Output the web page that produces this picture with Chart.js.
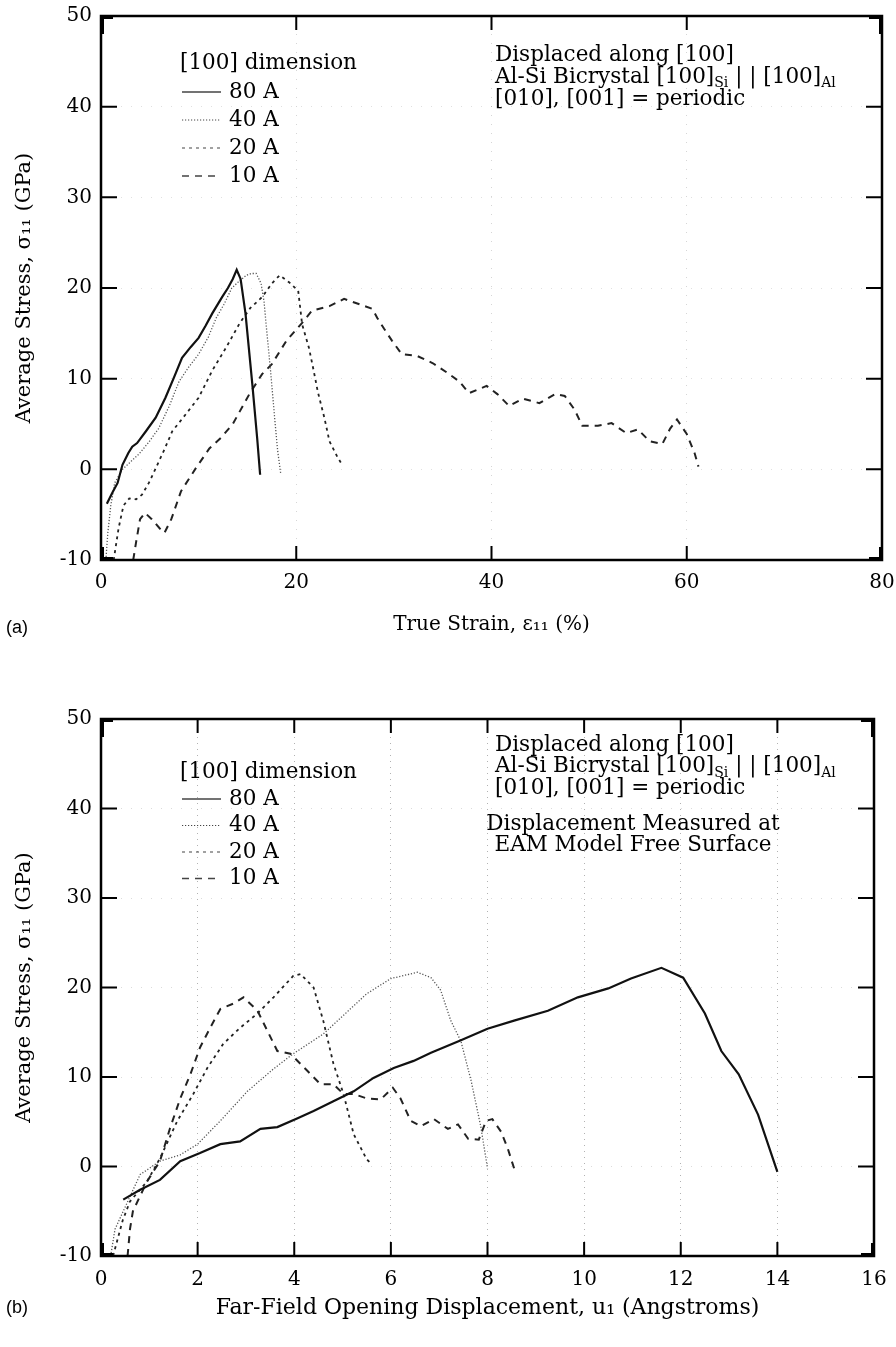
<!DOCTYPE html>
<html>
<head>
<meta charset="utf-8">
<script src="https://cdn.jsdelivr.net/npm/chart.js@4/dist/chart.umd.min.js"></script>
<style>
  html, body { margin: 0; padding: 0; background: #fff; }
  body { width: 896px; height: 1347px; position: relative; overflow: hidden; }
  canvas { position: absolute; left: 0; }
  #chartA { top: 0; }
  #chartB { top: 660px; }
</style>
</head>
<body>
<canvas id="chartA" width="896" height="660"></canvas>
<canvas id="chartB" width="896" height="687"></canvas>
<script>
// legend entries ([100] dimension of the model)
const sizeLabels = ['80 A', '40 A', '20 A', '10 A'];

// tick labels
const stressTicks = [-10, 0, 10, 20, 30, 40, 50];
const strainTicks = [0, 20, 40, 60, 80];
const dispTicks = [0, 2, 4, 6, 8, 10, 12, 14, 16];

// (a) true strain (%) vs average stress (GPa)
const strainA80 = [0.6, 1.2, 1.7, 2.2, 2.8, 3.2, 3.7, 4.6, 5.6, 6.6, 7.5, 8.3, 9.2, 10.0, 10.7, 11.4, 12.4, 13.0, 13.5, 13.9, 14.3, 14.8, 15.5, 16.0, 16.3];
const stressA80 = [-3.8, -2.5, -1.5, 0.5, 1.8, 2.5, 2.9, 4.2, 5.7, 7.9, 10.2, 12.3, 13.5, 14.5, 15.8, 17.2, 19.0, 20.0, 21.0, 22.0, 21.0, 17.2, 9.4, 3.4, -0.6];

const strainA40 = [0.5, 0.7, 1.0, 1.4, 2.2, 3.0, 3.9, 4.9, 5.9, 7.0, 8.0, 9.0, 10.0, 11.0, 11.8, 12.6, 13.4, 14.2, 14.9, 15.4, 15.9, 16.4, 16.7, 17.0, 17.4, 17.8, 18.1, 18.4];
const stressA40 = [-10, -7, -4, -1.5, 0, 0.8, 1.7, 3.0, 4.5, 7.0, 9.7, 11.3, 12.7, 14.6, 16.7, 18.2, 20.0, 20.8, 21.4, 21.6, 21.6, 20.5, 18.5, 15.0, 10.5, 5.5, 2.0, -0.4];

const strainA20 = [1.3, 1.8, 2.3, 2.9, 3.6, 4.2, 4.9, 5.6, 6.5, 7.3, 8.7, 10.0, 11.4, 12.8, 14.2, 15.3, 16.5, 17.5, 18.3, 19.3, 20.2, 20.6, 21.3, 21.8, 22.2, 22.9, 23.4, 24.2, 24.7];
const stressA20 = [-10, -6.5, -4.0, -3.2, -3.3, -2.8, -1.5, 0.1, 2.2, 4.2, 6.1, 7.9, 10.9, 13.4, 16.1, 17.8, 19.0, 20.5, 21.4, 20.6, 19.7, 16.0, 13.4, 10.8, 8.6, 5.6, 3.1, 1.4, 0.5];

const strainA10 = [3.3, 3.6, 4.0, 4.5, 5.2, 6.0, 6.5, 7.2, 8.2, 9.7, 11.1, 12.3, 13.5, 15.2, 16.5, 17.5, 19.0, 20.8, 21.6, 23.4, 24.9, 26.5, 27.8, 28.3, 29.0, 29.8, 30.8, 32.4, 34.0, 35.4, 36.7, 37.7, 39.5, 40.6, 41.8, 43.2, 44.9, 46.5, 47.5, 48.5, 49.3, 50.9, 52.3, 53.8, 55.0, 56.2, 57.5, 58.3, 59.0, 60.0, 60.8, 61.2];
const stressA10 = [-10, -8, -5.5, -4.8, -5.5, -6.5, -7.0, -5.5, -2.4, 0.1, 2.3, 3.5, 5.0, 8.3, 10.5, 11.6, 14.2, 16.4, 17.5, 18.0, 18.8, 18.2, 17.7, 16.7, 15.5, 14.2, 12.7, 12.5, 11.7, 10.7, 9.7, 8.4, 9.2, 8.3, 7.0, 7.8, 7.3, 8.3, 8.1, 6.6, 4.8, 4.8, 5.1, 4.0, 4.4, 3.1, 2.8, 4.5, 5.5, 3.9, 1.8, 0.3];

// (b) far-field opening displacement (Angstroms) vs average stress (GPa)
const dispB80 = [0.46, 0.81, 1.22, 1.64, 2.05, 2.47, 2.88, 3.3, 3.65, 4.07, 4.4, 4.81, 5.23, 5.64, 6.06, 6.47, 6.83, 7.45, 8.0, 8.55, 9.25, 9.87, 10.5, 10.97, 11.6, 12.05, 12.5, 12.84, 13.2, 13.6, 14.0];
const stressB80 = [-3.7, -2.6, -1.5, 0.6, 1.5, 2.5, 2.8, 4.2, 4.4, 5.4, 6.2, 7.3, 8.4, 9.9, 11.0, 11.8, 12.7, 14.1, 15.4, 16.3, 17.4, 18.9, 19.9, 21.0, 22.2, 21.1, 17.1, 12.9, 10.3, 5.8, -0.6];

const dispB40 = [0.2, 0.29, 0.46, 0.81, 1.22, 1.64, 2.0, 2.47, 3.03, 3.57, 3.98, 4.6, 5.02, 5.5, 6.0, 6.55, 6.83, 7.03, 7.24, 7.45, 7.66, 7.86, 8.0];
const stressB40 = [-10, -7, -5, -0.9, 0.6, 1.3, 2.5, 5.1, 8.4, 10.9, 12.6, 14.8, 16.9, 19.3, 21.0, 21.7, 21.1, 19.7, 16.3, 14.0, 9.6, 4.5, -0.2];

const dispB20 = [0.25, 0.45, 0.6, 0.95, 1.22, 1.58, 1.91, 2.2, 2.53, 2.88, 3.24, 3.57, 3.98, 4.13, 4.4, 4.6, 4.81, 5.02, 5.23, 5.5, 5.6];
const stressB20 = [-10, -6, -3.9, -1.7, 0.9, 5.1, 8.1, 11.0, 13.7, 15.5, 17.1, 18.9, 21.3, 21.5, 20.0, 16.3, 11.5, 8.1, 3.6, 0.8, 0.3];

const dispB10 = [0.55, 0.6, 0.66, 0.95, 1.22, 1.43, 1.64, 1.85, 2.05, 2.26, 2.47, 2.74, 2.95, 3.24, 3.44, 3.65, 3.92, 4.27, 4.54, 4.81, 5.02, 5.23, 5.5, 5.79, 6.04, 6.2, 6.41, 6.62, 6.89, 7.18, 7.39, 7.6, 7.82, 7.97, 8.1, 8.28, 8.42, 8.55];
const stressB10 = [-10, -7, -5, -1.7, 0.6, 4.3, 7.6, 10.3, 13.3, 15.5, 17.6, 18.2, 18.9, 17.4, 15.2, 12.9, 12.6, 10.7, 9.2, 9.2, 8.1, 8.1, 7.6, 7.5, 8.8, 7.6, 5.1, 4.5, 5.3, 4.2, 4.7, 3.1, 3.0, 5.1, 5.3, 3.9, 2.0, -0.2];

// line look of each model size
const lineStyles = [
  { color: '#111', width: 2.2, dash: [] },         // 80 A solid
  { color: '#555', width: 1.3, dash: [1.2, 1.8] }, // 40 A dotted
  { color: '#222', width: 1.8, dash: [3, 4] },     // 20 A short dash
  { color: '#222', width: 2.0, dash: [7, 6] },     // 10 A long dash
];

const serif = 'DejaVu Serif';
const noteSize = 21.5;

function toPoints(xs, ys) {
  return xs.map((x, i) => ({ x: x, y: ys[i] }));
}

function makeDatasets(series) {
  return series.map((s, i) => ({
    label: sizeLabels[i],
    data: toPoints(s[0], s[1]),
    showLine: true,
    borderColor: lineStyles[i].color,
    borderWidth: lineStyles[i].width,
    borderDash: lineStyles[i].dash,
    pointRadius: 0,
    tension: 0,
    fill: false,
  }));
}

// text with optional subscripts: parts = [[text, isSub], ...]
function drawRich(ctx, parts, x, y, size) {
  let cx = x;
  parts.forEach(p => {
    const sub = p[1];
    ctx.font = (sub ? Math.round(size * 0.65) : size) + 'px "' + serif + '"';
    ctx.fillText(p[0], cx, sub ? y + size * 0.3 : y);
    cx += ctx.measureText(p[0]).width;
  });
}

// frame, inward ticks, legend and notes
const decorPlugin = {
  id: 'decor',
  afterDatasetsDraw(chart, args, opts) {
    const ctx = chart.ctx;
    const { left, right, top, bottom } = chart.chartArea;
    const xs = chart.scales.x, ys = chart.scales.y;
    ctx.save();
    ctx.setLineDash([]);
    ctx.strokeStyle = '#000';
    ctx.fillStyle = '#000';

    // frame
    ctx.lineWidth = 2.5;
    ctx.strokeRect(left, top, right - left, bottom - top);
    // heavier corners
    const c = 13, t = 4;
    ctx.fillRect(left - 1, top - 1, t, c + 6); ctx.fillRect(left - 1, top - 1, c, t);
    ctx.fillRect(left - 1, bottom - c, t, c + 1); ctx.fillRect(left - 1, bottom - t + 1, c, t);
    ctx.fillRect(right - t + 1, top - 1, t, c + 6); ctx.fillRect(right - c, top - 1, c, t);
    ctx.fillRect(right - t + 1, bottom - c, t, c + 1); ctx.fillRect(right - c, bottom - t + 1, c, t);

    // inward ticks on all four sides
    ctx.lineWidth = 2;
    const L = 14;
    ctx.beginPath();
    xs.ticks.forEach(tk => {
      if (tk.value <= xs.min || tk.value >= xs.max) return;
      const px = xs.getPixelForValue(tk.value);
      ctx.moveTo(px, bottom); ctx.lineTo(px, bottom - L);
      ctx.moveTo(px, top); ctx.lineTo(px, top + L);
    });
    ys.ticks.forEach(tk => {
      if (tk.value <= ys.min || tk.value >= ys.max) return;
      const py = ys.getPixelForValue(tk.value);
      ctx.moveTo(left, py); ctx.lineTo(left + L + 2, py);
      ctx.moveTo(right, py); ctx.lineTo(right - L - 2, py);
    });
    ctx.stroke();

    // legend
    const lg = opts.legend;
    ctx.textBaseline = 'middle';
    ctx.textAlign = 'left';
    ctx.font = noteSize + 'px "' + serif + '"';
    ctx.fillText('[100] dimension', lg.x, lg.y);
    sizeLabels.forEach((lab, i) => {
      const yy = lg.y + lg.first + i * lg.step;
      const st = lineStyles[i];
      ctx.beginPath();
      ctx.lineWidth = Math.max(1, st.width - 0.6);
      ctx.strokeStyle = '#444';
      ctx.setLineDash(st.dash);
      ctx.moveTo(lg.x + 2, yy);
      ctx.lineTo(lg.x + 41, yy);
      ctx.stroke();
      ctx.setLineDash([]);
      ctx.font = noteSize + 'px "' + serif + '"';
      ctx.fillText(lab, lg.x + 49, yy);
    });

    // notes
    const nt = opts.notes;
    drawRich(ctx, [['Displaced along [100]', false]], nt.x, nt.y, noteSize);
    drawRich(ctx, [['Al-Si Bicrystal [100]', false], ['Si', true], [' | | [100]', false], ['Al', true]], nt.x, nt.y + nt.step, noteSize);
    drawRich(ctx, [['[010], [001] = periodic', false]], nt.x, nt.y + 2 * nt.step, noteSize);
    if (nt.extra) {
      ctx.textAlign = 'center';
      ctx.font = noteSize + 'px "' + serif + '"';
      nt.extra.forEach((line, i) => ctx.fillText(line, nt.extraX, nt.extraY + i * nt.step));
      ctx.textAlign = 'left';
    }

    // panel letter
    ctx.font = '18px "Liberation Sans"';
    ctx.fillText(opts.panel, 6, opts.panelY);
    ctx.restore();
  }
};

function makeChart(id, series, xTicks, xTitle, fit) {
  const tickFont = { family: serif, size: 20 };
  return new Chart(document.getElementById(id), {
    type: 'scatter',
    data: { datasets: makeDatasets(series) },
    options: {
      responsive: false,
      animation: false,
      devicePixelRatio: 1,
      layout: { padding: { left: 0, right: fit.right, top: fit.top, bottom: 0 } },
      plugins: {
        legend: { display: false },
        tooltip: { enabled: false },
        decor: fit.decor,
      },
      scales: {
        x: {
          type: 'linear',
          min: xTicks[0],
          max: xTicks[xTicks.length - 1],
          ticks: { stepSize: xTicks[1] - xTicks[0], font: tickFont, color: '#000', padding: fit.xPad, maxRotation: 0 },
          grid: { color: fit.gridColor, lineWidth: 1, drawTicks: false },
          border: { display: false, dash: fit.xDash },
          title: { display: true, text: xTitle, color: '#000', font: { family: serif, size: fit.xTitleSize }, padding: { top: 0, bottom: fit.xTitlePad } },
          afterFit(scale) { scale.height = fit.xHeight; scale.paddingLeft = 0; scale.paddingRight = 0; },
        },
        y: {
          type: 'linear',
          min: stressTicks[0],
          max: stressTicks[stressTicks.length - 1],
          ticks: { stepSize: stressTicks[1] - stressTicks[0], font: tickFont, color: '#000', padding: 9 },
          grid: { color: fit.yGridColor, lineWidth: 1, drawTicks: false },
          border: { display: false, dash: [1, 9] },
          title: { display: true, text: 'Average Stress, σ₁₁ (GPa)', color: '#000', font: { family: serif, size: 21 }, padding: { top: 12, bottom: 0 } },
          afterFit(scale) { scale.width = 101; scale.paddingTop = 0; scale.paddingBottom = 0; },
        },
      },
    },
    plugins: [decorPlugin],
  });
}

makeChart('chartA',
  [[strainA80, stressA80], [strainA40, stressA40], [strainA20, stressA20], [strainA10, stressA10]],
  strainTicks, 'True Strain, ε₁₁ (%)',
  {
    right: 14, top: 16, xHeight: 100, xPad: 11, xTitlePad: 23, xTitleSize: 20,
    gridColor: 'rgba(0,0,0,0.16)', yGridColor: 'rgba(0,0,0,0.12)', xDash: [1, 8],
    decor: {
      legend: { x: 180, y: 63, first: 29, step: 28 },
      notes: { x: 495, y: 55, step: 22 },
      panel: '(a)', panelY: 628,
    },
  });

makeChart('chartB',
  [[dispB80, stressB80], [dispB40, stressB40], [dispB20, stressB20], [dispB10, stressB10]],
  dispTicks, 'Far-Field Opening Displacement, u₁ (Angstroms)',
  {
    right: 22, top: 59, xHeight: 91, xPad: 12, xTitlePad: 26, xTitleSize: 22,
    gridColor: 'rgba(0,0,0,0.3)', yGridColor: 'rgba(0,0,0,0.14)', xDash: [1, 5],
    decor: {
      legend: { x: 180, y: 112, first: 27, step: 26.5 },
      notes: { x: 495, y: 85, step: 21.5, extra: ['Displacement Measured at', 'EAM Model Free Surface'], extraX: 633, extraY: 164 },
      panel: '(b)', panelY: 648,
    },
  });
</script>
</body>
</html>
